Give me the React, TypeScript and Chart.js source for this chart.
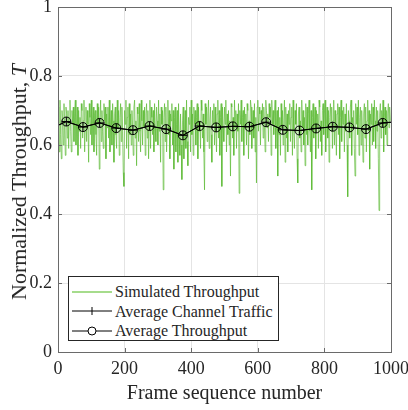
import React, { useEffect, useRef } from "react";
import { Chart, registerables } from "chart.js";

Chart.register(...registerables);

// Simulated throughput, one value every FRAME_STEP frames (frames 0..998)
const FRAME_STEP = 2;
const simThroughput = [
  0.66,0.71,0.58,0.73,0.63,0.56,0.70,0.67,0.60,0.72,0.65,0.57,0.71,0.69,0.62,0.70,0.59,0.68,0.73,0.64,0.58,0.70,0.66,0.71,0.61,
  0.69,0.73,0.60,0.66,0.71,0.57,0.70,0.64,0.68,0.59,0.72,0.70,0.62,0.67,0.73,0.58,0.65,0.71,0.61,0.70,0.66,0.55,0.72,0.68,0.63,
  0.73,0.60,0.67,0.71,0.58,0.69,0.70,0.63,0.57,0.72,0.66,0.71,0.53,0.68,0.73,0.61,0.70,0.64,0.59,0.72,0.67,0.71,0.56,0.69,0.65,
  0.71,0.62,0.73,0.58,0.66,0.70,0.60,0.72,0.67,0.55,0.69,0.71,0.63,0.59,0.73,0.65,0.70,0.57,0.68,0.72,0.61,0.71,0.64,0.52,0.48,
  0.70,0.66,0.73,0.59,0.68,0.71,0.56,0.72,0.63,0.69,0.60,0.70,0.65,0.57,0.71,0.73,0.62,0.67,0.54,0.71,0.69,0.61,0.72,0.64,0.58,
  0.73,0.67,0.60,0.70,0.65,0.71,0.57,0.69,0.72,0.62,0.70,0.56,0.66,0.73,0.59,0.71,0.68,0.63,0.70,0.58,0.72,0.65,0.61,0.71,0.67,
  0.60,0.73,0.64,0.69,0.55,0.71,0.66,0.70,0.47,0.68,0.72,0.61,0.71,0.58,0.65,0.73,0.63,0.70,0.56,0.69,0.67,0.72,0.60,0.70,0.53,
  0.68,0.71,0.58,0.66,0.70,0.55,0.72,0.62,0.57,0.69,0.60,0.50,0.67,0.71,0.56,0.64,0.70,0.59,0.73,0.61,0.54,0.68,0.66,0.71,0.58,
  0.73,0.63,0.69,0.57,0.71,0.66,0.70,0.60,0.68,0.72,0.56,0.71,0.64,0.67,0.59,0.73,0.70,0.62,0.69,0.58,0.47,0.72,0.66,0.71,0.61,
  0.69,0.73,0.59,0.67,0.71,0.63,0.55,0.70,0.66,0.72,0.60,0.71,0.64,0.58,0.69,0.73,0.62,0.70,0.57,0.68,0.72,0.48,0.71,0.65,0.61,
  0.71,0.66,0.73,0.58,0.69,0.63,0.70,0.60,0.67,0.51,0.72,0.71,0.62,0.68,0.57,0.73,0.65,0.70,0.59,0.69,0.64,0.72,0.46,0.70,0.66,
  0.73,0.61,0.68,0.70,0.57,0.71,0.65,0.69,0.60,0.72,0.70,0.56,0.67,0.63,0.73,0.71,0.59,0.66,0.70,0.62,0.72,0.58,0.68,0.49,0.71,
  0.73,0.64,0.71,0.69,0.60,0.70,0.67,0.72,0.62,0.71,0.66,0.58,0.73,0.70,0.65,0.69,0.61,0.72,0.68,0.71,0.57,0.73,0.66,0.70,0.63,
  0.69,0.73,0.59,0.66,0.70,0.51,0.71,0.63,0.68,0.57,0.72,0.65,0.70,0.60,0.67,0.73,0.55,0.71,0.62,0.69,0.58,0.70,0.66,0.72,0.61,
  0.68,0.71,0.57,0.73,0.64,0.59,0.70,0.66,0.72,0.56,0.49,0.69,0.71,0.62,0.67,0.58,0.73,0.65,0.70,0.60,0.68,0.54,0.72,0.63,0.71,
  0.60,0.69,0.73,0.64,0.58,0.70,0.47,0.68,0.72,0.62,0.66,0.71,0.56,0.70,0.65,0.69,0.59,0.73,0.71,0.61,0.67,0.57,0.70,0.72,0.63,
  0.69,0.73,0.58,0.66,0.71,0.62,0.70,0.55,0.68,0.72,0.64,0.71,0.59,0.67,0.73,0.60,0.70,0.65,0.57,0.69,0.72,0.63,0.71,0.56,0.68,
  0.73,0.61,0.70,0.66,0.71,0.58,0.69,0.64,0.72,0.60,0.45,0.70,0.67,0.62,0.71,0.73,0.57,0.68,0.65,0.70,0.59,0.51,0.72,0.66,0.71,
  0.63,0.73,0.57,0.68,0.71,0.60,0.70,0.65,0.55,0.69,0.72,0.62,0.71,0.58,0.67,0.73,0.64,0.70,0.53,0.69,0.66,0.72,0.60,0.71,0.61,
  0.73,0.67,0.59,0.71,0.64,0.70,0.56,0.41,0.69,0.72,0.62,0.70,0.66,0.73,0.58,0.68,0.71,0.63,0.70,0.60,0.69,0.72,0.65,0.71,0.67,
];

// Averages (first and last entries are the line ends, no marker)
const avgFrames = [0, 25, 75, 125, 175, 225, 275, 325, 375, 425, 475, 525, 575, 625, 675, 725, 775, 825, 875, 925, 975, 1000];
const avgThroughput = [0.657, 0.668, 0.652, 0.664, 0.649, 0.643, 0.655, 0.646, 0.628, 0.655, 0.651, 0.654, 0.653, 0.666, 0.644, 0.642, 0.648, 0.653, 0.651, 0.646, 0.664, 0.666];
const avgChannelTraffic = [0.657, 0.668, 0.652, 0.664, 0.649, 0.643, 0.655, 0.646, 0.628, 0.655, 0.651, 0.654, 0.653, 0.666, 0.644, 0.642, 0.648, 0.653, 0.651, 0.646, 0.664, 0.666];

const xTicks = [0, 200, 400, 600, 800, 1000];
const yTicks = [0, 0.2, 0.4, 0.6, 0.8, 1];

const SERIF = "'Liberation Serif', 'Times New Roman', serif";
const TEXT = "#262626";
const GREEN = "rgba(92, 186, 52, 0.68)";

Chart.defaults.font.family = SERIF;

const framePlugin = {
  id: "frameBox",
  afterDatasetsDraw(chart: any) {
    const { ctx, chartArea } = chart;
    const { left, right, top, bottom } = chartArea;
    const xs = chart.scales.x;
    const ys = chart.scales.y;
    ctx.save();
    ctx.strokeStyle = "#6a6a6a";
    ctx.lineWidth = 1;
    ctx.beginPath();
    const tl = 4;
    xTicks.forEach((t) => {
      const px = Math.round(xs.getPixelForValue(t)) + 0.5;
      ctx.moveTo(px, bottom);
      ctx.lineTo(px, bottom - tl);
      ctx.moveTo(px, top);
      ctx.lineTo(px, top + tl);
    });
    yTicks.forEach((t) => {
      const py = Math.round(ys.getPixelForValue(t)) + 0.5;
      ctx.moveTo(left, py);
      ctx.lineTo(left + tl, py);
      ctx.moveTo(right, py);
      ctx.lineTo(right - tl, py);
    });
    ctx.stroke();
    ctx.strokeRect(Math.round(left) + 0.5, Math.round(top) + 0.5, Math.round(right - left), Math.round(bottom - top));
    ctx.restore();
  },
};

function LegendSample({ kind }: { kind: "green" | "plus" | "circle" }) {
  return (
    <svg width={40} height={14} style={{ display: "block" }}>
      {kind === "green" ? (
        <line x1={0} y1={7} x2={40} y2={7} stroke="#a6dc8c" strokeWidth={2} />
      ) : (
        <line x1={0} y1={7} x2={40} y2={7} stroke="#000" strokeWidth={1} />
      )}
      {kind === "plus" && <line x1={20} y1={3} x2={20} y2={11} stroke="#000" strokeWidth={1} />}
      {kind === "circle" && <circle cx={20} cy={7} r={4} fill="#fff" stroke="#000" strokeWidth={1} />}
    </svg>
  );
}

export default function App() {
  const canvasRef = useRef<HTMLCanvasElement | null>(null);

  useEffect(() => {
    if (!canvasRef.current) return;
    const simData = simThroughput.map((v, i) => ({ x: i * FRAME_STEP, y: v }));
    const trafficData = avgFrames.map((f, i) => ({ x: f, y: avgChannelTraffic[i] }));
    const thrData = avgFrames.map((f, i) => ({ x: f, y: avgThroughput[i] }));
    const markerRadius = avgFrames.map((_, i) => (i === 0 || i === avgFrames.length - 1 ? 0 : 4.5));

    const chart = new Chart(canvasRef.current, {
      type: "line",
      data: {
        datasets: [
          {
            label: "Simulated Throughput",
            data: simData,
            borderColor: GREEN,
            borderWidth: 1,
            pointRadius: 0,
            tension: 0,
            order: 3,
          },
          {
            label: "Average Channel Traffic",
            data: trafficData,
            borderColor: "#000",
            borderWidth: 1,
            pointStyle: "cross",
            pointRadius: markerRadius,
            pointBorderColor: "#000",
            pointBorderWidth: 1,
            tension: 0,
            order: 2,
          },
          {
            label: "Average Throughput",
            data: thrData,
            borderColor: "#000",
            borderWidth: 1,
            pointStyle: "circle",
            pointRadius: markerRadius,
            pointBorderColor: "#000",
            pointBackgroundColor: "rgba(0,0,0,0)",
            pointBorderWidth: 1,
            tension: 0,
            order: 1,
          },
        ],
      },
      options: {
        animation: false,
        responsive: false,
        devicePixelRatio: 1,
        layout: { padding: { top: 7, right: 17, left: 0, bottom: 0 } },
        plugins: { legend: { display: false }, tooltip: { enabled: false } },
        scales: {
          x: {
            type: "linear",
            min: 0,
            max: 1000,
            afterBuildTicks: (s: any) => {
              s.ticks = xTicks.map((v) => ({ value: v }));
            },
            ticks: {
              font: { family: SERIF, size: 18 },
              color: TEXT,
              padding: 6,
              maxRotation: 0,
              callback: (v: any) => String(v),
            },
            grid: { color: "#e4e4e4", drawTicks: false },
            border: { display: false },
            title: {
              display: true,
              text: "Frame sequence number",
              font: { family: SERIF, size: 20 },
              color: TEXT,
              padding: { top: 0, bottom: 4 },
            },
            afterFit: (s: any) => {
              s.height = 58;
              s.paddingLeft = 0;
              s.paddingRight = 0;
            },
          },
          y: {
            min: 0,
            max: 1,
            afterBuildTicks: (s: any) => {
              s.ticks = yTicks.map((v) => ({ value: v }));
            },
            ticks: {
              font: { family: SERIF, size: 18 },
              color: TEXT,
              padding: 6,
              callback: (v: any) => String(Number(Number(v).toFixed(1))),
            },
            grid: { color: "#e4e4e4", drawTicks: false },
            border: { display: false },
            afterFit: (s: any) => {
              s.width = 58;
              s.paddingTop = 0;
              s.paddingBottom = 0;
            },
          },
        },
      },
      plugins: [framePlugin],
    });
    return () => chart.destroy();
  }, []);

  return (
    <div style={{ position: "fixed", left: 0, top: 0, width: 408, height: 410, background: "#fff" }}>
      <canvas ref={canvasRef} width={408} height={410} style={{ display: "block" }} />
      <div
        style={{
          position: "absolute",
          left: 19,
          top: 182,
          transform: "translate(-50%, -50%) rotate(-90deg)",
          whiteSpace: "nowrap",
          fontFamily: SERIF,
          fontSize: 22,
          color: TEXT,
          lineHeight: 1,
        }}
      >
        Normalized Throughput, <i>T</i>
      </div>
      <div
        style={{
          position: "absolute",
          left: 68,
          top: 276,
          width: 211,
          height: 65,
          border: "1px solid #262626",
          background: "#fff",
          fontFamily: SERIF,
          fontSize: 16,
          color: TEXT,
          boxSizing: "border-box",
          paddingTop: 5,
        }}
      >
        {[
          { kind: "green" as const, label: "Simulated Throughput" },
          { kind: "plus" as const, label: "Average Channel Traffic" },
          { kind: "circle" as const, label: "Average Throughput" },
        ].map((e) => (
          <div key={e.label} style={{ display: "flex", alignItems: "center", height: 19.5, lineHeight: "19px" }}>
            <div style={{ marginLeft: 3, marginRight: 3 }}>
              <LegendSample kind={e.kind} />
            </div>
            <span>{e.label}</span>
          </div>
        ))}
      </div>
    </div>
  );
}
